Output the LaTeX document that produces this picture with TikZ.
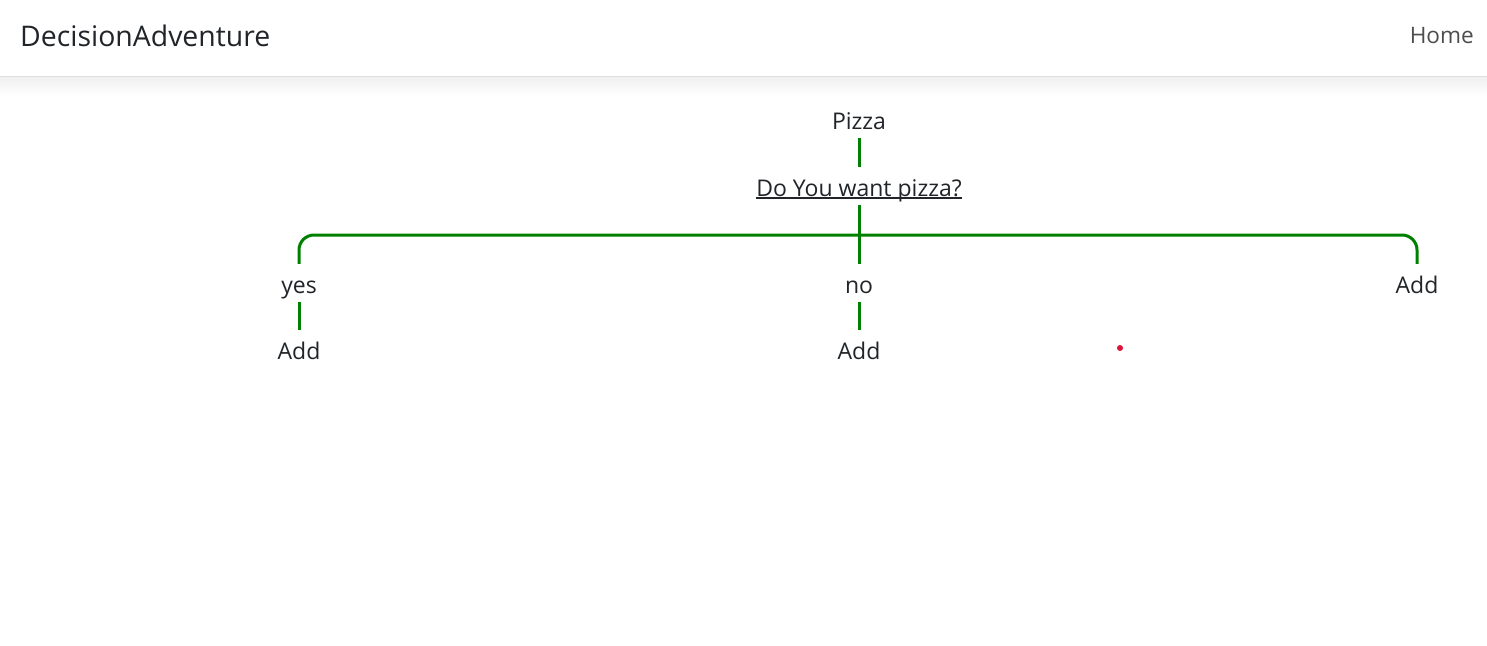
\documentclass[tikz,border=0pt]{standalone}
\usepackage{fontspec}
\setmainfont{Open Sans}
\usepackage{tikz}

\definecolor{txt}{HTML}{212529}
\definecolor{treegreen}{HTML}{008000}
\definecolor{navgray}{HTML}{4D4D4D}
\definecolor{dotred}{HTML}{DC143C}
\newcommand{\linktext}[1]{\setbox0\hbox{#1}\rlap{\rule[-3pt]{\wd0}{1.6pt}}\box0}

\begin{document}
\begin{tikzpicture}[x=1pt, y=-1pt,
		item/.style={anchor=base, inner sep=0pt, text height=17pt, text depth=5pt, text=txt, font=\fontsize{23}{28}\selectfont},
		branch/.style={draw=treegreen, line width=3pt, shorten <=4pt, shorten >=12pt}]
				\useasboundingbox (0,0) rectangle (1487,645);
				\fill[white] (0,0) rectangle (1487,645);
				% header bar
				\shade[top color=black!6, bottom color=white] (0,77) rectangle (1487,96);
				\draw[black!13, line width=1pt] (0,76.5) -- (1487,76.5);
				\node[anchor=base west, inner sep=0pt, text=txt, font=\fontsize{28.4}{34}\selectfont] (brand) at (20,46) {DecisionAdventure};
				\node[anchor=base east, inner sep=0pt, text=navgray, font=\fontsize{22.6}{28}\selectfont] (home) at (1474,43) {Home};
				% tree
				\node[item] (pizza) at (859,129) {Pizza};
				\node[item] (question) at (859,196) {\linktext{Do You want pizza?}};
				\node[item] (yes) at (299,293) {yes};
				\node[item] (no) at (859,293) {no};
				\node[item] (addright) at (1417,293) {Add};
				\node[item] (addyes) at (299,359) {Add};
				\node[item] (addno) at (859,359) {Add};
				\coordinate (bar) at (859,235);
				\draw[branch] (pizza.south) -- (pizza.south |- question.north);
				\draw[branch] (question.south) -- (question.south |- no.north);
				\draw[draw=treegreen, line width=3pt, rounded corners=15pt] ([yshift=12pt]yes.north) |- (bar) -| ([yshift=12pt]addright.north);
				\draw[branch] (yes.south) -- (addyes.north);
				\draw[branch] (no.south) -- (addno.north);
				\fill[dotred] (1120,348) circle (3pt);
\end{tikzpicture}
\end{document}
